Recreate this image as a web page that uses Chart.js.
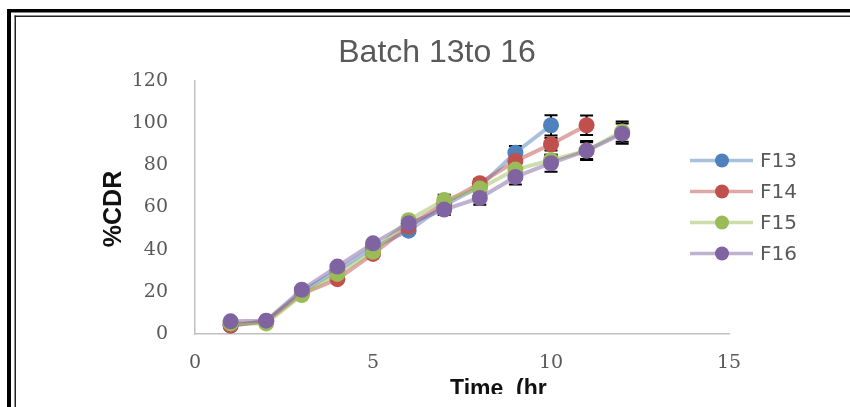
<!DOCTYPE html>
<html>
<head>
<meta charset="utf-8">
<script src="https://cdn.jsdelivr.net/npm/chart.js@4"></script>
<style>
  body { margin: 0; background: #fff; }
  canvas { display: block; }
</style>
</head>
<body>
<canvas id="myChart" width="850" height="407"></canvas>
<script>
const time = [1, 2, 3, 4, 5, 6, 7, 8, 9, 10, 11, 12];
const seriesNames = ['F13', 'F14', 'F15', 'F16'];
const f13 = [4, 6, 20, 30, 41, 49, 61, 70, 86, 99];
const f14 = [4, 6, 19, 26, 38, 51, 62, 71.5, 82, 90, 99];
const f15 = [5, 5, 18.5, 28.5, 39, 54, 63.5, 69, 78, 82.5, 87, 96];
const f16 = [6, 6.3, 21, 32, 43, 52.5, 59, 64.5, 74.5, 81, 87, 95];
const err13 = [1, 1, 1, 1, 1, 1, 2, 2, 3.2, 4.8];
const err14 = [1, 1, 1, 1, 1, 1, 2, 2, 2.5, 3, 4.6];
const err15 = [1, 1, 1, 1, 1, 1, 2.5, 2.5, 2.5, 2.5, 4, 4.8];
const err16 = [1, 1, 1, 1, 1, 1, 2.6, 3.2, 3.6, 4, 4.5, 4.8];
const xTicks = [0, 5, 10, 15];
const yTicks = [0, 20, 40, 60, 80, 100, 120];

const colors = ['#4F81BD', '#C0504D', '#9BBB59', '#8064A2'];
const lineColors = ['rgba(79,129,189,0.5)', 'rgba(192,80,77,0.5)', 'rgba(155,187,89,0.5)', 'rgba(128,100,162,0.5)'];
const values = [f13, f14, f15, f16];
const errors = [err13, err14, err15, err16];

const ctx = document.getElementById('myChart').getContext('2d');

const datasets = values.map((vals, i) => ({
  label: seriesNames[i],
  data: vals.map((v, j) => ({ x: time[j], y: v })),
  errors: errors[i],
  borderColor: lineColors[i],
  backgroundColor: colors[i],
  borderWidth: 4,
  pointRadius: 8,
  pointBackgroundColor: colors[i],
  pointBorderColor: colors[i],
  pointBorderWidth: 0,
  tension: 0,
  order: 3 - i
}));

// white page + double frame
const framePlugin = {
  id: 'frame',
  beforeDraw(chart) {
    const c = chart.ctx;
    c.save();
    c.fillStyle = '#fff';
    c.fillRect(0, 0, chart.width, chart.height);
    c.fillStyle = '#000';
    c.fillRect(7, 9, 4, chart.height);
    c.fillRect(7, 9, chart.width, 3.5);
    c.fillStyle = '#222';
    c.fillRect(14.5, 15.5, 1.5, chart.height);
    c.fillRect(14.5, 15.5, chart.width, 1.5);
    c.restore();
  }
};

// error bars drawn under the markers
const errorBarPlugin = {
  id: 'errorBars',
  beforeDatasetsDraw(chart) {
    const c = chart.ctx;
    const xs = chart.scales.x, ys = chart.scales.y;
    c.save();
    c.strokeStyle = '#000';
    c.lineWidth = 2;
    chart.data.datasets.forEach(ds => {
      ds.data.forEach((p, j) => {
        const e = ds.errors[j];
        const px = xs.getPixelForValue(p.x);
        const top = ys.getPixelForValue(p.y + e);
        const bot = ys.getPixelForValue(p.y - e);
        c.beginPath();
        c.moveTo(px, top); c.lineTo(px, bot);
        c.moveTo(px - 6.5, top); c.lineTo(px + 6.5, top);
        c.moveTo(px - 6.5, bot); c.lineTo(px + 6.5, bot);
        c.stroke();
      });
    });
    c.restore();
  }
};

// title, axis titles and legend
const labelPlugin = {
  id: 'labels',
  afterDraw(chart) {
    const c = chart.ctx;
    c.save();
    c.fillStyle = '#595959';
    c.font = '32px "Liberation Sans"';
    c.textAlign = 'center';
    c.textBaseline = 'alphabetic';
    c.fillText('Batch 13to 16', 437, 62);

    c.save();
    c.translate(121, 209);
    c.rotate(-Math.PI / 2);
    c.fillStyle = '#111';
    c.font = 'bold 25px "Liberation Sans"';
    c.fillText('%CDR', 0, 0);
    c.restore();

    c.save();
    c.beginPath();
    c.rect(0, 0, chart.width, 394);
    c.clip();
    c.fillStyle = '#111';
    c.font = 'bold 23px "Liberation Sans"';
    c.textAlign = 'left';
    c.fillText('Time  (hr', 450, 396);
    c.restore();

    chart.data.datasets.forEach((ds, i) => {
      const y = 160.5 + i * 31;
      c.strokeStyle = lineColors[i];
      c.lineWidth = 3.5;
      c.beginPath();
      c.moveTo(690, y); c.lineTo(753, y);
      c.stroke();
      c.fillStyle = colors[i];
      c.beginPath();
      c.arc(722, y, 7, 0, Math.PI * 2);
      c.fill();
      c.fillStyle = '#595959';
      c.font = '20px "DejaVu Sans"';
      c.textAlign = 'left';
      c.textBaseline = 'middle';
      c.fillText(ds.label, 760, y + 1);
    });
    c.restore();
  }
};

const config = {
  type: 'line',
  data: { datasets: datasets },
  options: {
    responsive: false,
    animation: false,
    layout: { padding: { left: 95, right: 121, top: 81, bottom: 0 } },
    plugins: {
      legend: { display: false },
      tooltip: { enabled: false }
    },
    scales: {
      x: {
        type: 'linear',
        min: 0,
        max: 15,
        afterFit(scale) { scale.height = 73; },
        afterBuildTicks(scale) { scale.ticks = xTicks.map(v => ({ value: v })); },
        grid: { drawOnChartArea: false, drawTicks: false },
        border: { display: true, color: '#c0c0c0', width: 1.5 },
        ticks: {
          padding: 18,
          maxRotation: 0,
          color: '#595959',
          font: { family: 'DejaVu Serif', size: 19 }
        }
      },
      y: {
        min: 0,
        max: 120,
        afterFit(scale) { scale.width = 100; },
        afterBuildTicks(scale) { scale.ticks = yTicks.map(v => ({ value: v })); },
        grid: { drawOnChartArea: false, drawTicks: false },
        border: { display: true, color: '#c0c0c0', width: 1.5 },
        ticks: {
          padding: 27,
          color: '#595959',
          font: { family: 'DejaVu Serif', size: 19 }
        }
      }
    }
  },
  plugins: [framePlugin, errorBarPlugin, labelPlugin]
};

const myChart = new Chart(ctx, config);
</script>
</body>
</html>
